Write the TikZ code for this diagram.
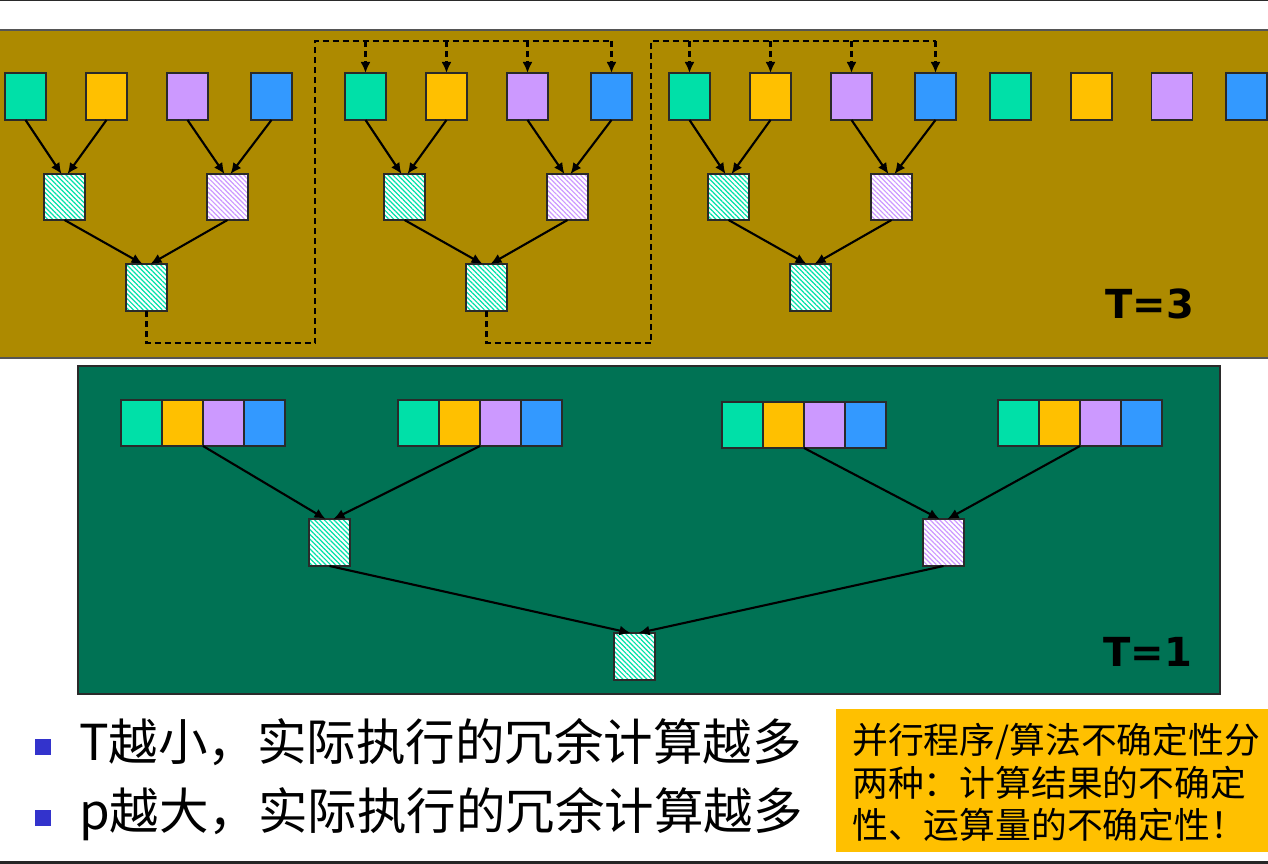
\documentclass[tikz,border=0pt]{standalone}
\usepackage{fontspec}
\newfontfamily\cjk{Noto Sans CJK SC}
\newfontfamily\dvs{DejaVu Sans}
\usetikzlibrary{arrows.meta,patterns.meta}
\definecolor{cTeal}{HTML}{00E0A8}
\definecolor{cYel}{HTML}{FFC000}
\definecolor{cLav}{HTML}{CC99FF}
\definecolor{cBlue}{HTML}{3399FF}
\definecolor{cOlive}{HTML}{AD8A00}
\definecolor{cGreen}{HTML}{007254}
\definecolor{cBul}{HTML}{3333CC}
\definecolor{cEdge}{HTML}{2A2A2A}
\begin{document}
\begin{tikzpicture}[x=1pt,y=-1pt,
  blk/.style={draw=cEdge,line width=1.6pt,minimum width=41pt,minimum height=47pt,inner sep=0pt,outer sep=0pt},
  hat/.style={blk,preaction={fill=white},pattern={Lines[angle=-45,distance=3.4pt,line width=1.2pt]},pattern color=#1},
  arr/.style={line width=2.1pt,-{Latex[length=11pt,width=10pt]}},
  darr/.style={line width=2.3pt,dash pattern=on 6pt off 4pt,-{Latex[length=11pt,width=10pt]}},
  dln/.style={line width=2.3pt,dash pattern=on 6pt off 4pt},
  lbl/.style={font=\dvs\bfseries\fontsize{40}{40}\selectfont,inner sep=0pt},
  bul/.style={fill=cBul,minimum size=16pt,inner sep=0pt},
  btxt/.style={anchor=base west,font=\cjk\fontsize{49.5}{49.5}\selectfont,inner sep=0pt},
  otxt/.style={anchor=base west,font=\cjk\fontsize{35.8}{35.8}\selectfont,inner sep=0pt}
  ]
\fill[white] (0,0) rectangle (1268,864);
\useasboundingbox (0,0) rectangle (1268,864);
% top rule
\draw[cEdge,line width=1.5pt] (0,0.75) -- (1268,0.75);
% top panel
\fill[cOlive] (0,30) rectangle (1268,358);
\draw[cEdge!80,line width=1.4pt] (0,30) -- (1268,30) (0,358) -- (1268,358);
% bottom panel
\draw[fill=cGreen,draw=cEdge,line width=1.6pt] (78,366) rectangle (1220,694);
% bottom rule
\fill[black!85] (0,861) rectangle (1268,864);
% orange note
\fill[cYel] (836,709) rectangle (1268,852);

% T=3 trees
\foreach \g/\o in {1/0,2/340,3/664} {
  \foreach \i/\x/\c in {1/25.5/cTeal,2/106.5/cYel,3/187.5/cLav,4/271.5/cBlue}
    \node[blk,fill=\c] (s\g-\i) at (\x+\o,96.5) {};
  \node[hat=cTeal,minimum height=46pt] (m\g-1) at (64.5+\o,197) {};
  \node[hat=cLav,minimum height=46pt] (m\g-2) at (227.5+\o,197) {};
  \node[hat=cTeal] (b\g) at (146.5+\o,287.5) {};
  \draw[arr] (s\g-1.south) -- ([xshift=-3pt]m\g-1.north);
  \draw[arr] (s\g-2.south) -- ([xshift=3pt]m\g-1.north);
  \draw[arr] (s\g-3.south) -- ([xshift=-3pt]m\g-2.north);
  \draw[arr] (s\g-4.south) -- ([xshift=3pt]m\g-2.north);
  \draw[arr] (m\g-1.south) -- ([xshift=-4pt]b\g.north);
  \draw[arr] (m\g-2.south) -- ([xshift=4pt]b\g.north);
}
\foreach \i/\x/\c in {1/1010.5/cTeal,2/1091.5/cYel,3/1172/cLav,4/1246.5/cBlue}
  \node[blk,fill=\c] (e\i) at (\x,96.5) {};

% dashed feedback
\coordinate (k1) at (315,343); \coordinate (j1) at (315,41);
\coordinate (k2) at (651,343); \coordinate (j2) at (651,41);
\draw[dln] (b1.south) |- (k1) -- (j1) -- (s2-4.north |- j1);
\draw[dln] (b2.south) |- (k2) -- (j2) -- (s3-4.north |- j2);
\foreach \i in {1,...,4} {
  \draw[darr] (s2-\i.north |- j1) -- (s2-\i.north);
  \draw[darr] (s3-\i.north |- j2) -- (s3-\i.north);
}
\node[lbl] (t3) at (1150,304) {T=3};

% T=1 tree
\foreach \g/\l/\y in {A/121/423,B/398/423,C/722/425,D/998/423} {
  \foreach \i/\c in {1/cTeal,2/cYel,3/cLav,4/cBlue}
    \node[blk,fill=\c,minimum height=46pt] (\g\i) at (\l+20.5+41*\i-41,\y) {};
}
\node[hat=cTeal] (ml) at (329.5,542.5) {};
\node[hat=cLav] (mr) at (943.5,542.5) {};
\node[hat=cTeal] (bot) at (634.5,656.5) {};
\draw[arr] (A2.south east) -- ([xshift=-4pt]ml.north);
\draw[arr] (B2.south east) -- ([xshift=4pt]ml.north);
\draw[arr] (C2.south east) -- ([xshift=-4pt]mr.north);
\draw[arr] (D2.south east) -- ([xshift=4pt]mr.north);
\draw[arr] (ml.south) -- ([xshift=-4pt]bot.north);
\draw[arr] (mr.south) -- ([xshift=4pt]bot.north);
\node[lbl] (t1) at (1148,652) {T=1};

% bullets
\node[bul] (bu1) at (43,747) {};
\node[bul] (bu2) at (43,818) {};
\node[btxt] (l1) at (79,760) {T越小，实际执行的冗余计算越多};
\node[btxt] (l2) at (79,829) {p越大，实际执行的冗余计算越多};

% note text
\node[otxt] (n1) at (852,753) {并行程序/算法不确定性分};
\node[otxt] (n2) at (852,796) {两种：计算结果的不确定};
\node[otxt] (n3) at (852,838) {性、运算量的不确定性！};
\end{tikzpicture}
\end{document}
